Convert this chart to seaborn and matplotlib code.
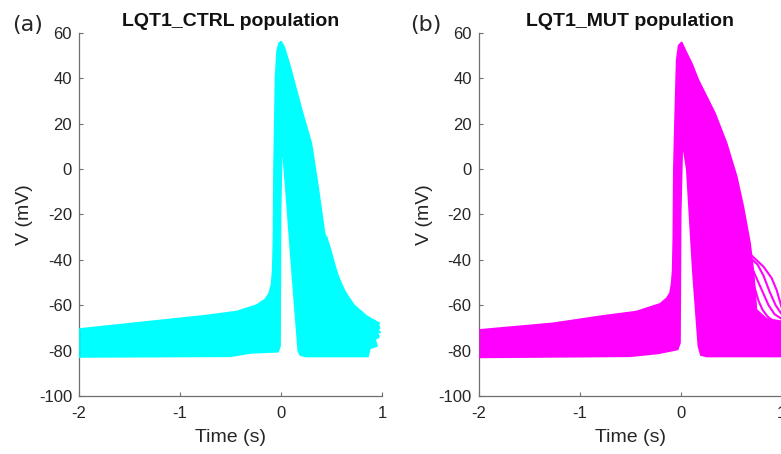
import matplotlib
matplotlib.use("Agg")
import matplotlib.pyplot as plt
import seaborn as sns
import pandas as pd

# ---------------- data ----------------
# Outline of the population envelope, LQT1_CTRL (time in s, voltage in mV)
ctrl_t = [-2.0, -2.0, -1.43, -0.77, -0.44, -0.24, -0.16, -0.12, -0.095, -0.083,
          -0.075, -0.07, -0.055, -0.04, -0.02, 0.0, 0.03, 0.09, 0.205, 0.30,
          0.366, 0.43, 0.485, 0.55, 0.65, 0.80, 0.96, 0.975, 0.95, 0.97, 0.93,
          0.95, 0.88, 0.86, 0.25, 0.19, 0.17, 0.10, 0.05, 0.023, 0.007, -0.005,
          -0.01, -0.03, -0.30, -0.50, -2.0]
ctrl_v = [-82.8, -70.5, -67.8, -64.7, -62.8, -59.9, -57.5, -55.0, -51.0, -45.0,
          -30.0, 0.0, 40.0, 52.0, 55.5, 56.2, 54.0, 45.2, 26.0, 11.4,
          -7.7, -28.0, -35.6, -47.0, -57.0, -64.0, -68.0, -70.0, -71.5, -74.0, -75.0,
          -78.0, -79.0, -82.6, -82.6, -82.0, -80.0, -40.0, -10.0, 5.0, 10.0, -20.0,
          -78.0, -80.5, -81.0, -82.5, -82.8]

# Outline of the population envelope, LQT1_MUT
mut_t = [-2.0, -2.0, -1.27, -0.77, -0.44, -0.205, -0.14, -0.106, -0.09, -0.08,
         -0.073, -0.068, -0.057, -0.04, -0.02, 0.01, 0.05, 0.11, 0.175, 0.34,
         0.455, 0.555, 0.62, 0.687, 0.72, 0.75, 0.85, 0.99, 1.02, 1.02, 0.95,
         0.26, 0.20, 0.175, 0.12, 0.06, 0.03, 0.016, 0.0, -0.007, -0.03, -0.22,
         -0.50, -2.0]
mut_v = [-83.0, -70.9, -68.0, -64.7, -62.8, -59.4, -57.0, -54.7, -50.5, -45.0,
         -30.0, 0.0, 20.0, 48.0, 54.5, 55.9, 52.0, 46.6, 39.3, 24.6,
         11.4, -3.3, -16.5, -32.7, -45.0, -62.0, -66.0, -67.0, -67.0, -82.6, -82.6,
         -82.6, -82.0, -78.0, -45.0, 0.0, 8.4, 10.0, -20.0, -76.6, -79.5, -81.2,
         -82.5, -83.0]

# A few individual traces standing out of the envelope
ctrl_tail_t = [[0.45, 0.52, 0.60, 0.72, 0.85, 0.97],
               [0.47, 0.56, 0.66, 0.78, 0.90, 0.98]]
ctrl_tail_v = [[-30.0, -42.0, -52.0, -60.0, -65.0, -68.0],
               [-33.0, -47.0, -57.0, -64.0, -69.0, -72.0]]

mut_ead_t = [[0.64, 0.70, 0.76, 0.82, 0.90, 0.95, 1.00],
             [0.66, 0.71, 0.76, 0.82, 0.88, 0.94, 1.00],
             [0.68, 0.72, 0.77, 0.82, 0.87, 0.93, 1.00],
             [0.70, 0.73, 0.77, 0.81, 0.86, 0.92, 1.00]]
mut_ead_v = [[-35.6, -38.0, -40.5, -43.0, -48.0, -53.3, -61.0],
             [-38.0, -40.0, -42.0, -47.0, -54.0, -60.0, -64.0],
             [-40.0, -45.0, -50.0, -55.0, -60.0, -64.0, -66.0],
             [-42.0, -52.0, -58.0, -62.0, -65.0, -67.0, -68.0]]

titles = ["LQT1_CTRL population", "LQT1_MUT population"]
panel_tags = ["(a)", "(b)"]
colors = ["#00FFFF", "#FF00FF"]
x_ticks = [-2, -1, 0, 1]
y_ticks = [-100, -80, -60, -40, -20, 0, 20, 40, 60]

# ---------------- figure ----------------
sns.set_theme(style="ticks")
plt.rcParams["font.family"] = ["Liberation Sans", "DejaVu Sans"]

fig = plt.figure(figsize=(7.81, 4.54), dpi=100)
ax_a = fig.add_axes([0.1012, 0.1278, 0.388, 0.7995])
ax_b = fig.add_axes([0.6129, 0.1278, 0.388, 0.7995])

panels = [
    (ax_a, ctrl_t, ctrl_v, ctrl_tail_t, ctrl_tail_v),
    (ax_b, mut_t, mut_v, mut_ead_t, mut_ead_v),
]

for i, (ax, et, ev, tt, tv) in enumerate(panels):
    col = colors[i]
    ax.fill(et, ev, color=col, lw=0, zorder=2)
    df = pd.DataFrame({"t": et, "v": ev})
    sns.lineplot(data=df, x="t", y="v", sort=False, estimator=None,
                 color=col, lw=1.2, ax=ax, zorder=3)
    for k in range(len(tt)):
        d = pd.DataFrame({"t": tt[k], "v": tv[k]})
        sns.lineplot(data=d, x="t", y="v", sort=False, estimator=None,
                     color=col, lw=1.5, ax=ax, zorder=3)

    ax.set_xlim(-2, 1)
    ax.set_ylim(-100, 60)
    ax.set_xticks(x_ticks)
    ax.set_yticks(y_ticks)
    ax.set_xticklabels([str(v) for v in x_ticks])
    ax.set_yticklabels([str(v) for v in y_ticks])
    ax.tick_params(direction="in", length=3, width=0.8, colors="#6e6e6e",
                   labelcolor="#262626", labelsize=12)
    ax.tick_params(axis="x", pad=7)
    ax.tick_params(axis="y", pad=5)
    for s in ["top", "right"]:
        ax.spines[s].set_visible(False)
    for s in ["left", "bottom"]:
        ax.spines[s].set_color("#6e6e6e")
        ax.spines[s].set_linewidth(0.9)
    ax.set_xlabel("Time (s)", fontsize=14, color="#262626", labelpad=6)
    ax.set_ylabel("V (mV)", fontsize=14, color="#262626", labelpad=4)
    ax.set_title(titles[i], fontsize=14, fontweight="bold", color="#111111", pad=5)
    ax.set_facecolor("white")

fig.text(0.016, 0.945, panel_tags[0], fontsize=16, family="DejaVu Sans",
         color="#262626", va="center", ha="left")
fig.text(0.525, 0.945, panel_tags[1], fontsize=16, family="DejaVu Sans",
         color="#262626", va="center", ha="left")

fig.savefig("out.png", dpi=100, facecolor="white")
